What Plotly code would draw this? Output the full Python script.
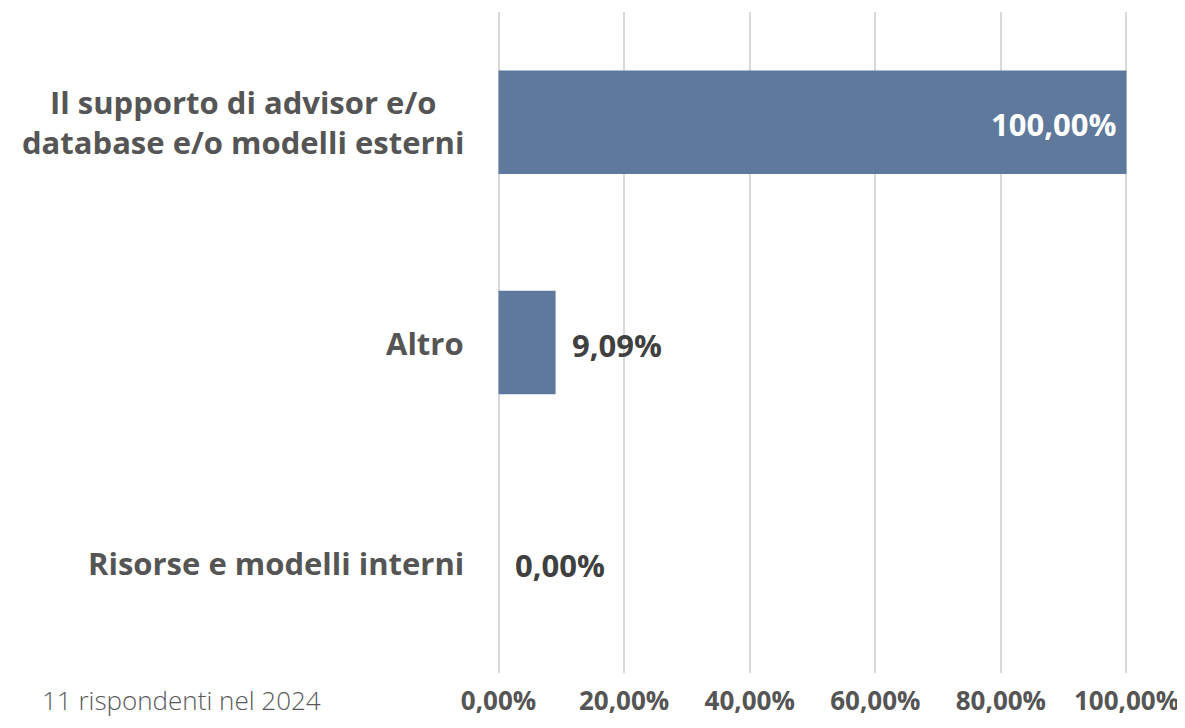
import plotly.graph_objects as go

# data, bottom to top as plotly draws a horizontal bar chart
categories = [
    "Risorse e modelli interni",
    "Altro",
    "Il supporto di advisor e/o<br>database e/o modelli esterni",
]
shares = [0.0, 0.0909, 1.0]
tick_vals = [0.0, 0.2, 0.4, 0.6, 0.8, 1.0]
footer_note = "11 rispondenti nel 2024"

BAR_COLOR = '#5f799c'
TEXT_COLOR = '#404040'
LABEL_COLOR = '#555555'


def pct(v):
    return f"{v * 100:.2f}%".replace(".", ",")


fig = go.Figure(
    go.Bar(
        x=shares,
        y=categories,
        orientation='h',
        width=0.47,
        marker=dict(color=BAR_COLOR, line=dict(width=0)),
        hoverinfo='skip'
    )
)

# value labels: white inside long bars, dark just past short ones
for cat, v in zip(categories, shares):
    inside = v > 0.5
    fig.add_annotation(
        x=v, y=cat, xref='x', yref='y',
        text=pct(v),
        showarrow=False,
        xanchor='right' if inside else 'left',
        xshift=-8 if inside else 14,
        yshift=-2,
        font=dict(family='Open Sans', size=31, weight='bold',
                  color='white' if inside else TEXT_COLOR)
    )

# category labels: block right aligned, lines centred on each other
for cat in categories:
    fig.add_annotation(
        x=0, y=cat, xref='paper', yref='y',
        text=cat,
        showarrow=False,
        xanchor='right',
        align='center',
        xshift=-30,
        font=dict(family='Open Sans', size=31, weight='bold', color=LABEL_COLOR)
    )

fig.add_annotation(
    x=-0.497, y=-0.041, xref='paper', yref='paper',
    xanchor='center', yanchor='middle',
    text=footer_note,
    showarrow=False,
    font=dict(family='Open Sans', size=26, weight=300, color='#595959')
)

# page body has an 8px margin, so the figure is sized to fit the window
fig.update_layout(
    width=1177,
    height=720,
    margin=dict(l=488, r=56, t=4, b=55),
    paper_bgcolor='white',
    plot_bgcolor='white',
    showlegend=False,
    xaxis=dict(
        range=[-0.004, 1.004],
        tickvals=tick_vals,
        ticktext=[pct(v) for v in tick_vals],
        showgrid=True,
        gridcolor='#d9d9d9',
        gridwidth=2,
        zeroline=False,
        showline=False,
        ticks='',
        ticklabelstandoff=10,
        tickfont=dict(family='Open Sans', size=26, weight='bold', color=LABEL_COLOR),
        fixedrange=True
    ),
    yaxis=dict(
        categoryorder='array',
        categoryarray=categories,
        showticklabels=False,
        showgrid=False,
        zeroline=False,
        showline=False,
        ticks='',
        fixedrange=True
    )
)

fig.write_html("out.html")
